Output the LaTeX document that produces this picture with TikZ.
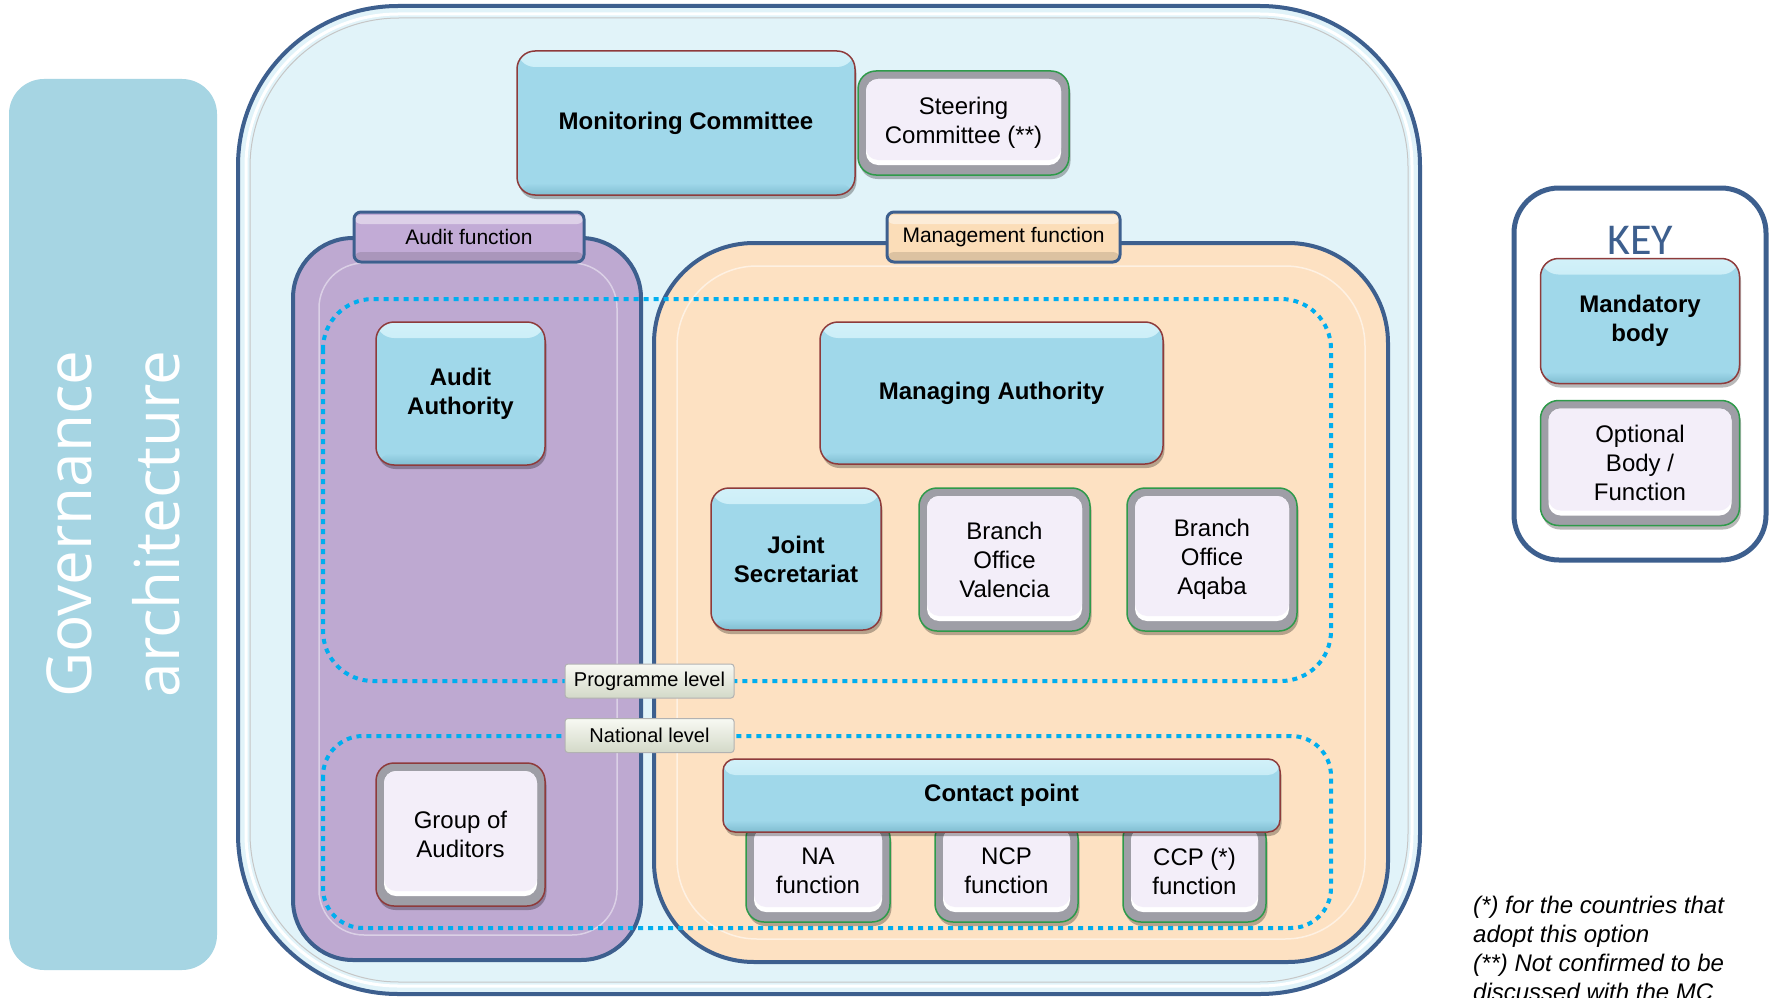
\documentclass[tikz,border=0pt]{standalone}
\usepackage{fontspec}
\setmainfont{Liberation Sans}
\newfontfamily\govfont{Open Sans}
\newfontfamily\keyfont{Carlito}
\usetikzlibrary{shadows}
\definecolor{govblue}{HTML}{A6D5E3}
\definecolor{outerfill}{HTML}{E1F3F9}
\definecolor{frameblue}{HTML}{3D5F8E}
\definecolor{mandfill}{HTML}{A0D8EA}
\definecolor{mandtop}{HTML}{D2F1F9}
\definecolor{mandbot}{HTML}{80BDD1}
\definecolor{redborder}{HTML}{8E3B3B}
\definecolor{greenborder}{HTML}{2E9A4A}
\definecolor{optfill}{HTML}{F3EEF9}
\definecolor{bevelgray}{HTML}{9E9EA6}
\definecolor{purplefill}{HTML}{BEA9D1}
\definecolor{purpletab}{HTML}{C2ABD6}
\definecolor{peachfill}{HTML}{FDE1C2}
\definecolor{peachtab}{HTML}{FBDDB8}
\definecolor{dotblue}{HTML}{00AEEF}
\definecolor{labeltop}{HTML}{F8F9F3}
\definecolor{labelbot}{HTML}{D3D9C8}
\begin{document}
\begin{tikzpicture}[x=1pt,y=-1pt,
  boxshadow/.style={drop shadow={shadow xshift=1.5pt, shadow yshift=-4pt, opacity=0.28, fill=black}},
  mandbox/.style={rounded corners=18pt, draw=redborder, line width=1.5pt, fill=mandfill, boxshadow,
    align=center, inner sep=0pt, font=\bfseries\fontsize{24}{29}\selectfont,
    path picture={
      \shade[top color=mandtop, bottom color=mandfill] (path picture bounding box.north west) rectangle ([yshift=-16pt]path picture bounding box.north east);
      \shade[top color=mandfill, bottom color=mandbot] ([yshift=12pt]path picture bounding box.south west) rectangle (path picture bounding box.south east);
    }},
  optbox/.style={rounded corners=18pt, draw=greenborder, line width=1.5pt, fill=bevelgray, boxshadow,
    align=center, inner sep=0pt, font=\fontsize{24}{29}\selectfont,
    path picture={
      \fill[white, rounded corners=12pt] ([xshift=8pt,yshift=-8pt]path picture bounding box.north west) rectangle ([xshift=-8pt,yshift=10pt]path picture bounding box.south east);
      \fill[optfill, rounded corners=12pt] ([xshift=8pt,yshift=-8pt]path picture bounding box.north west) rectangle ([xshift=-8pt,yshift=15pt]path picture bounding box.south east);
    }},
  tabbox/.style={rounded corners=7pt, draw=frameblue, line width=3pt, inner sep=0pt,
    font=\fontsize{21}{25}\selectfont, minimum height=50pt,
    path picture={
      \fill[white, opacity=0.45] ([yshift=-3pt]path picture bounding box.north west) rectangle ([yshift=-12pt]path picture bounding box.north east);
      \fill[black, opacity=0.12] ([yshift=10pt]path picture bounding box.south west) rectangle (path picture bounding box.south east);
    }},
  levelbox/.style={rounded corners=3pt, draw=gray!60, line width=1pt, top color=labeltop, bottom color=labelbot,
    inner sep=0pt, minimum width=169pt, minimum height=34pt, font=\fontsize{20}{24}\selectfont},
  dotline/.style={dotblue, line width=4pt, dash pattern=on 5pt off 5pt}
]
\useasboundingbox (0,0) rectangle (1773,998);
\fill[white] (0,0) rectangle (1773,998);

% governance side panel
\fill[govblue, rounded corners=35pt] (9,79) rectangle (217,970);
\node[rotate=90, text=white, align=center, inner sep=0pt, font=\govfont\fontsize{62}{88}\selectfont] (gov) at (113,524) {Governance\\architecture};

% outer container
\draw[frameblue, line width=4pt, fill=outerfill, rounded corners=160pt] (238,6) rectangle (1420,994);
\draw[white, line width=3pt, rounded corners=152pt] (246,14) rectangle (1412,986);
\draw[gray!45, line width=1pt, rounded corners=149pt] (250,18) rectangle (1408,982);

% audit function container
\draw[frameblue, line width=4pt, fill=purplefill, rounded corners=60pt] (293,238) rectangle (641,960);
\draw[white!45!purplefill, line width=1.5pt, rounded corners=45pt] (319,263) rectangle (617,935);

% management function container
\draw[frameblue, line width=4pt, fill=peachfill, rounded corners=100pt] (654,243) rectangle (1388,962);
\draw[white!55!peachfill, line width=1.5pt, rounded corners=80pt] (677,266) rectangle (1365,939);

% tabs
\node[tabbox, fill=purpletab, minimum width=230pt] (auditfn) at (469,237) {Audit function};
\node[tabbox, fill=peachtab, minimum width=233pt] (mgmtfn) at (1003.5,237) {Management function};

% level outlines
\draw[dotline, rounded corners=50pt] (323,299) rectangle (1331,681);
\draw[dotline, rounded corners=40pt] (323,736) rectangle (1331,928);
\node[levelbox] (prog) at (649.5,681) {Programme level};
\node[levelbox] (nat) at (649.5,735.5) {National level};

% bodies
\node[mandbox, minimum width=338pt, minimum height=144pt] (mc) at (686,123) {Monitoring Committee};
\node[optbox, minimum width=211pt, minimum height=104pt] (sc) at (963.5,123) {Steering\\Committee (**)};
\node[mandbox, minimum width=169pt, minimum height=143pt] (aa) at (460.5,393.5) {Audit\\Authority};
\node[mandbox, minimum width=343pt, minimum height=142pt] (ma) at (991.5,393) {Managing Authority};
\node[mandbox, minimum width=170pt, minimum height=142pt] (js) at (796,559) {Joint\\Secretariat};
\node[optbox, minimum width=171pt, minimum height=143pt] (bov) at (1004.5,559.5) {Branch\\Office\\Valencia};
\node[optbox, minimum width=170pt, minimum height=143pt] (boa) at (1212,559.5) {Branch\\Office\\Aqaba};
\node[optbox, draw=redborder, minimum width=169pt, minimum height=143pt] (goa) at (460.5,834.5) {Group of\\Auditors};
\node[optbox, minimum width=144pt, minimum height=102pt] (na) at (818,871) {NA\\function};
\node[optbox, minimum width=143pt, minimum height=102pt] (ncp) at (1006.5,871) {NCP\\function};
\node[optbox, minimum width=143pt, minimum height=102pt] (ccp) at (1194.5,871) {CCP (*)\\function};
\node[mandbox, rounded corners=12pt, minimum width=557pt, minimum height=73pt] (cp) at (1001.5,795.5) {Contact point};

% key
\draw[frameblue, line width=5pt, fill=white, rounded corners=45pt] (1514,188) rectangle (1766,560);
\node[text=frameblue, inner sep=0pt, font=\keyfont\fontsize{44}{50}\selectfont] (key) at (1640,240) {KEY};
\node[mandbox, minimum width=199pt, minimum height=125pt] (mand) at (1640,321) {Mandatory\\body};
\node[optbox, minimum width=199pt, minimum height=125pt] (opt) at (1640,463) {Optional\\Body /\\Function};

% footnotes
\node[anchor=north west, align=left, inner sep=0pt, font=\itshape\fontsize{24}{29}\selectfont] (note) at (1473,896) {(*) for the countries that\\adopt this option\\(**) Not confirmed to be\\discussed with the MC};
\end{tikzpicture}
\end{document}
